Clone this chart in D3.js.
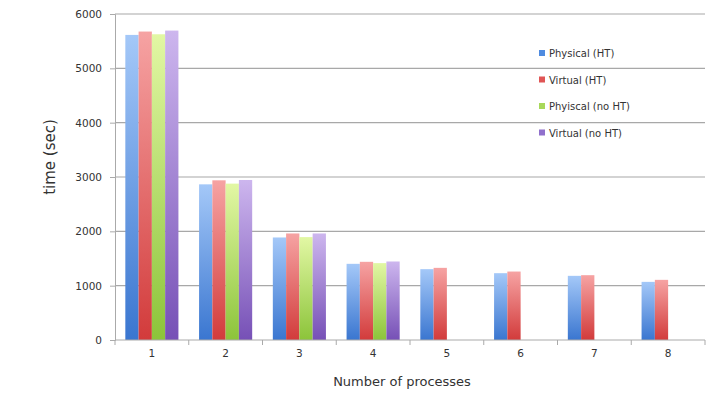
<!DOCTYPE html>
<html>
<head>
<meta charset="utf-8">
<script src="https://cdn.jsdelivr.net/npm/d3@7"></script>
<style>
  body { margin: 0; background: #fff; }
  text { font-family: "DejaVu Sans", Verdana, sans-serif; fill: #333; }
</style>
</head>
<body>
<div id="chart"></div>
<script>
// Data
const categories = ["1", "2", "3", "4", "5", "6", "7", "8"];
const seriesNames = ["Physical (HT)", "Virtual (HT)", "Phyiscal (no HT)", "Virtual (no HT)"];
const physicalHT = [5615, 2865, 1887, 1402, 1304, 1230, 1181, 1070];
const virtualHT = [5677, 2939, 1961, 1439, 1328, 1260, 1193, 1107];
const physicalNoHT = [5627, 2878, 1894, 1415, null, null, null, null];
const virtualNoHT = [5695, 2945, 1961, 1445, null, null, null, null];
const yTicks = [0, 1000, 2000, 3000, 4000, 5000, 6000];

const seriesValues = [physicalHT, virtualHT, physicalNoHT, virtualNoHT];
// gradient colours (top, bottom)
const colors = [
  ["#a4c8f8", "#3a76d0"],
  ["#f6a3a3", "#d23b3b"],
  ["#e2f7a4", "#8cc43a"],
  ["#cdb6ee", "#7650b6"]
];
const legendColors = ["#4f8be0", "#e05555", "#a8d85a", "#9070cc"];

const width = 719, height = 393;
const margin = { left: 115, right: 14, top: 14, bottom: 53 };

const svg = d3.select("#chart").append("svg")
  .attr("width", width)
  .attr("height", height);

const defs = svg.append("defs");
colors.forEach((c, i) => {
  const g = defs.append("linearGradient")
    .attr("id", "grad" + i)
    .attr("x1", 0).attr("y1", 0).attr("x2", 0).attr("y2", 1);
  g.append("stop").attr("offset", "0%").attr("stop-color", c[0]);
  g.append("stop").attr("offset", "100%").attr("stop-color", c[1]);
});

const x0 = d3.scaleBand()
  .domain(categories)
  .range([margin.left, width - margin.right])
  .paddingInner(0.28)
  .paddingOuter(0.14);

const x1 = d3.scaleBand()
  .domain(d3.range(seriesNames.length))
  .range([0, x0.bandwidth()]);

const y = d3.scaleLinear()
  .domain([0, 6000])
  .range([height - margin.bottom, margin.top]);

// gridlines
svg.append("g")
  .selectAll("line")
  .data(yTicks.filter(d => d > 0))
  .enter()
  .append("line")
  .attr("x1", margin.left)
  .attr("x2", width - margin.right)
  .attr("y1", d => y(d))
  .attr("y2", d => y(d))
  .attr("stroke", "#a8a8a8")
  .attr("stroke-width", 1.2);

// bars
const groups = svg.append("g")
  .selectAll("g")
  .data(categories)
  .enter()
  .append("g")
  .attr("transform", d => `translate(${x0(d)},0)`);

groups.selectAll("rect")
  .data((d, ci) => seriesValues.map((s, si) => ({ si, v: s[ci] })).filter(d => d.v != null))
  .enter()
  .append("rect")
  .attr("x", d => x1(d.si))
  .attr("width", x1.bandwidth())
  .attr("y", d => y(d.v))
  .attr("height", d => y(0) - y(d.v))
  .attr("fill", d => `url(#grad${d.si})`);

// y axis
const yAxis = svg.append("g")
  .attr("transform", `translate(${margin.left},0)`)
  .call(d3.axisLeft(y).tickValues(yTicks).tickSize(5).tickPadding(8).tickFormat(d3.format("d")));
yAxis.select(".domain").attr("stroke", "#aaa");
yAxis.selectAll(".tick line").attr("stroke", "#aaa");
yAxis.selectAll("text").style("font-size", "10.5px").style("fill", "#333");

// x axis
const xAxis = svg.append("g")
  .attr("transform", `translate(0,${y(0)})`);
xAxis.append("line")
  .attr("x1", margin.left).attr("x2", width - margin.right)
  .attr("stroke", "#aaa");
const bounds = categories.map(c => x0(c) - x0.step() * x0.paddingInner() / 2).concat([width - margin.right]);
xAxis.selectAll("line.tk")
  .data(bounds)
  .enter()
  .append("line")
  .attr("class", "tk")
  .attr("x1", d => d).attr("x2", d => d)
  .attr("y1", 0).attr("y2", 5)
  .attr("stroke", "#aaa");
xAxis.selectAll("text")
  .data(categories)
  .enter()
  .append("text")
  .attr("x", d => x0(d) + x0.bandwidth() / 2)
  .attr("y", 17)
  .attr("text-anchor", "middle")
  .style("font-size", "10.5px")
  .text(d => d);

// axis titles
svg.append("text")
  .attr("x", 402)
  .attr("y", 386)
  .attr("text-anchor", "middle")
  .style("font-size", "13px")
  .text("Number of processes");

svg.append("text")
  .attr("transform", "translate(55,157) rotate(-90)")
  .attr("text-anchor", "middle")
  .style("font-size", "15px")
  .text("time (sec)");

// legend
const legend = svg.append("g")
  .selectAll("g")
  .data(seriesNames)
  .enter()
  .append("g")
  .attr("transform", (d, i) => `translate(539,${54 + i * 26.5})`);
legend.append("rect")
  .attr("x", 0).attr("y", -4)
  .attr("width", 6).attr("height", 6)
  .attr("fill", (d, i) => legendColors[i]);
legend.append("text")
  .attr("x", 10)
  .attr("y", 3)
  .style("font-size", "10px")
  .text(d => d);
</script>
</body>
</html>
